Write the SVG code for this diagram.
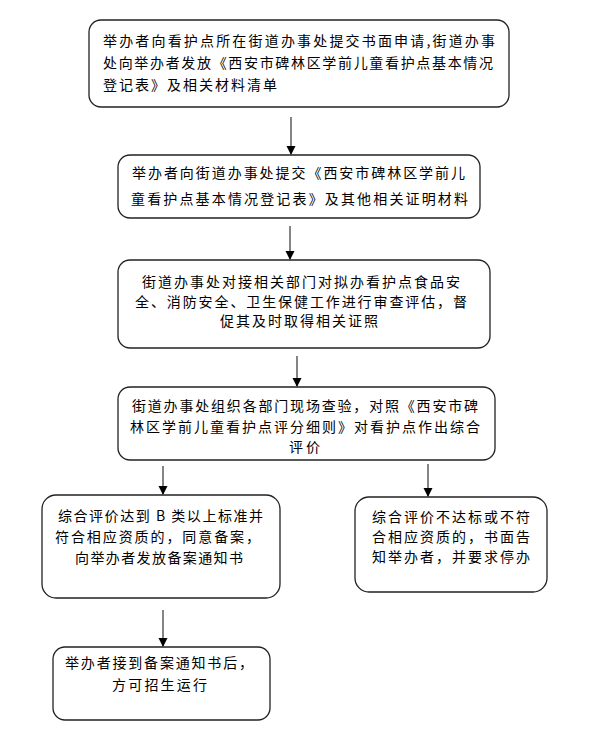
<svg xmlns="http://www.w3.org/2000/svg" width="589" height="735" viewBox="0 0 589 735">
<style>
.box{fill:#fff;stroke:#222;stroke-width:1.3}
.t{font-family:"Noto Sans CJK SC","Noto Sans CJK JP",sans-serif;font-size:14px;fill:#000}
.c{stroke:#333;stroke-width:1.2;fill:none}
</style>
<defs>
<marker id="ah" markerUnits="userSpaceOnUse" markerWidth="10" markerHeight="10" refX="8" refY="4.5" orient="auto">
<path d="M0,0 L9,4.5 L0,9 Z" fill="#000"/>
</marker>
</defs>
<rect width="589" height="735" fill="#fff"/>
<g id="n1">
<rect class="box" x="89" y="20" width="420" height="87" rx="12"/>
<text class="t" x="103" y="46" textLength="392" lengthAdjust="spacing">举办者向看护点所在街道办事处提交书面申请,街道办事</text>
<text class="t" x="103" y="68" textLength="390" lengthAdjust="spacing">处向举办者发放《西安市碑林区学前儿童看护点基本情况</text>
<text class="t" x="103" y="90" textLength="174" lengthAdjust="spacing">登记表》及相关材料清单</text>
</g>
<g id="n2">
<rect class="box" x="118" y="155" width="362" height="63" rx="12"/>
<text class="t" x="132" y="178" textLength="333" lengthAdjust="spacing">举办者向街道办事处提交《西安市碑林区学前儿</text>
<text class="t" x="131" y="204" textLength="337" lengthAdjust="spacing">童看护点基本情况登记表》及其他相关证明材料</text>
</g>
<g id="n3">
<rect class="box" x="118" y="260" width="372" height="88" rx="12"/>
<text class="t" x="142" y="287" textLength="318" lengthAdjust="spacing">街道办事处对接相关部门对拟办看护点食品安</text>
<text class="t" x="135" y="307" textLength="332" lengthAdjust="spacing">全、消防安全、卫生保健工作进行审查评估，督</text>
<text class="t" x="220" y="326" textLength="158" lengthAdjust="spacing">促其及时取得相关证照</text>
</g>
<g id="n4">
<rect class="box" x="118" y="387" width="377" height="73" rx="12"/>
<text class="t" x="132" y="411" textLength="346" lengthAdjust="spacing">街道办事处组织各部门现场查验，对照《西安市碑</text>
<text class="t" x="130" y="432" textLength="350" lengthAdjust="spacing">林区学前儿童看护点评分细则》对看护点作出综合</text>
<text class="t" x="289" y="452" textLength="31" lengthAdjust="spacing">评价</text>
</g>
<g id="n5">
<rect class="box" x="42" y="495" width="238" height="103" rx="14"/>
<text class="t" x="58" y="521" textLength="205" lengthAdjust="spacing">综合评价达到 B 类以上标准并</text>
<text class="t" x="55" y="542" textLength="205" lengthAdjust="spacing">符合相应资质的，同意备案，</text>
<text class="t" x="75" y="563" textLength="168" lengthAdjust="spacing">向举办者发放备案通知书</text>
</g>
<g id="n6">
<rect class="box" x="355" y="497" width="192" height="95" rx="14"/>
<text class="t" x="372" y="522" textLength="158" lengthAdjust="spacing">综合评价不达标或不符</text>
<text class="t" x="372" y="542" textLength="158" lengthAdjust="spacing">合相应资质的，书面告</text>
<text class="t" x="372" y="562" textLength="158" lengthAdjust="spacing">知举办者，并要求停办</text>
</g>
<g id="n7">
<rect class="box" x="53" y="647" width="217" height="73" rx="12"/>
<text class="t" x="65" y="668" textLength="188" lengthAdjust="spacing">举办者接到备案通知书后，</text>
<text class="t" x="112" y="690" textLength="95" lengthAdjust="spacing">方可招生运行</text>
</g>
<g id="connectors">
<line class="c" x1="291" y1="117" x2="291" y2="154" marker-end="url(#ah)"/>
<line class="c" x1="290" y1="226" x2="290" y2="259" marker-end="url(#ah)"/>
<line class="c" x1="297" y1="356" x2="297" y2="386" marker-end="url(#ah)"/>
<line class="c" x1="163" y1="466" x2="163" y2="494" marker-end="url(#ah)"/>
<line class="c" x1="428" y1="464" x2="428" y2="496" marker-end="url(#ah)"/>
<line class="c" x1="163" y1="610" x2="163" y2="646" marker-end="url(#ah)"/>
</g>
</svg>
